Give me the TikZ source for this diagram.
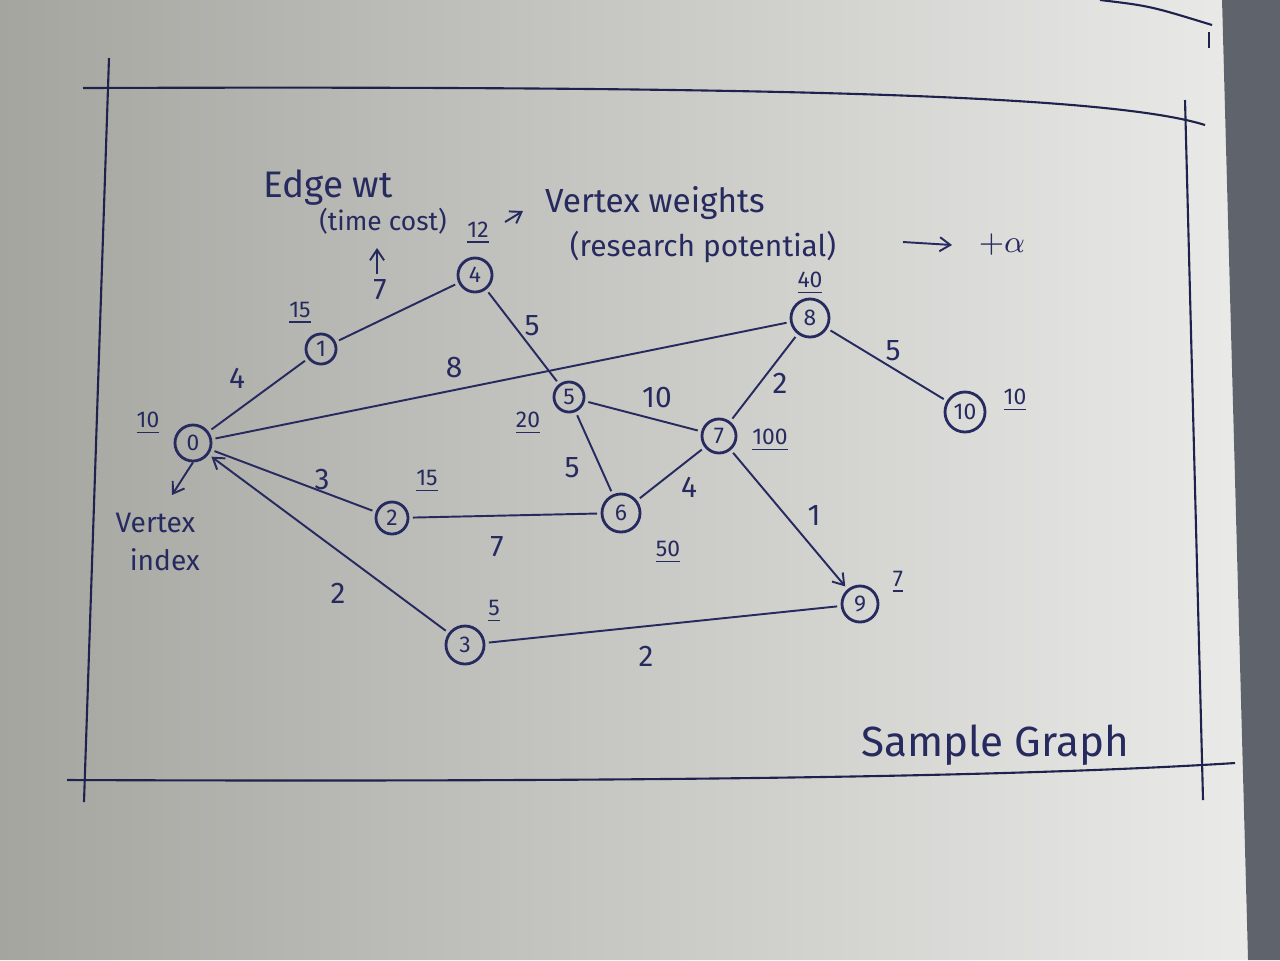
\documentclass[tikz,border=0pt]{standalone}
\usepackage{fontspec}
\setmainfont{Fira Sans}
\usetikzlibrary{arrows.meta}
\definecolor{ink}{RGB}{38,42,95}
\definecolor{paperL}{RGB}{165,165,160}
\definecolor{paperR}{RGB}{234,235,232}
\definecolor{backdrop}{RGB}{95,100,108}
\begin{document}
\begin{tikzpicture}[x=0.01cm,y=-0.01cm,
  vtx/.style={circle,draw=ink,line width=0.8pt,inner sep=0pt,text=ink,
    font=\fontsize{6.5}{7}\selectfont},
  edge/.style={draw=ink,line width=0.55pt,shorten >=1pt,shorten <=1pt},
  elab/.style={text=ink,font=\fontsize{8.5}{9}\selectfont,inner sep=0pt},
  wlab/.style={text=ink,font=\fontsize{6.5}{7}\selectfont,inner sep=0pt},
  note/.style={text=ink,inner sep=0pt,align=center},
  frame/.style={draw=ink!80!black,line width=0.6pt},
  tip/.style={-{Straight Barb[length=3pt,width=4pt]}}
]
\useasboundingbox (0,0) rectangle (1280,960);
% paper and backdrop
\shade[left color=paperL, right color=paperR] (0,0) -- (1222,0) -- (1248,960) -- (0,960) -- cycle;
\fill[backdrop] (1222,0) -- (1280,0) -- (1280,960) -- (1248,960) -- cycle;
% page frame
\coordinate (tl) at (83,88);
\coordinate (tr) at (1205,125);
\coordinate (lt) at (109,58);
\coordinate (lb) at (84,802);
\coordinate (bl) at (67,780);
\coordinate (br) at (1235,763);
\coordinate (rt) at (1185,100);
\coordinate (rb) at (1203,800);
\draw[frame] (tl) .. controls (700,86) and (1100,92) .. (tr);
\draw[frame] (lt) -- (lb);
\draw[frame] (bl) .. controls (600,782) and (1000,778) .. (br);
\draw[frame] (rt) -- (rb);
\coordinate (e1) at (1100,0);
\coordinate (e2) at (1212,25);
\draw[frame] (e1) .. controls (1150,6) .. (e2);
\coordinate (m1) at (1209,32);
\coordinate (m2) at (1209,48);
\draw[frame] (m1) -- (m2);

% vertices
\node[vtx,minimum size=0.36cm] (n0) at (193,443) {0};
\node[vtx,minimum size=0.30cm] (n1) at (321,349) {1};
\node[vtx,minimum size=0.34cm] (n4) at (475,275) {4};
\node[vtx,minimum size=0.30cm] (n5) at (569,397) {5};
\node[vtx,minimum size=0.38cm] (n8) at (810,318) {8};
\node[vtx,minimum size=0.40cm] (n10) at (965,412) {10};
\node[vtx,minimum size=0.34cm] (n7) at (719,436) {7};
\node[vtx,minimum size=0.38cm] (n6) at (621,513) {6};
\node[vtx,minimum size=0.32cm] (n2) at (392,518) {2};
\node[vtx,minimum size=0.38cm] (n3) at (465,645) {3};
\node[vtx,minimum size=0.36cm] (n9) at (860,604) {9};

% edges
\draw[edge] (n0) -- (n1);
\draw[edge] (n1) -- (n4);
\draw[edge] (n4) -- (n5);
\draw[edge] (n0) -- (n8);
\draw[edge] (n8) -- (n10);
\draw[edge] (n8) -- (n7);
\draw[edge] (n7) -- (n5);
\draw[edge] (n5) -- (n6);
\draw[edge] (n6) -- (n7);
\draw[edge,tip] (n7) -- (n9);
\draw[edge] (n0) -- (n2);
\draw[edge] (n2) -- (n6);
\draw[edge,tip] (n3) -- (n0);
\draw[edge] (n3) -- (n9);

% edge weights
\node[elab] (w01) at (237,378) {4};
\node[elab] (w14) at (380,290) {7};
\node[elab] (w08) at (454,368) {8};
\node[elab] (w45) at (532,326) {5};
\node[elab] (w810) at (893,351) {5};
\node[elab] (w87) at (780,383) {2};
\node[elab] (w75) at (657,398) {10};
\node[elab] (w56) at (572,468) {5};
\node[elab] (w67) at (689,487) {4};
\node[elab] (w79) at (814,515) {1};
\node[elab] (w02) at (322,480) {3};
\node[elab] (w26) at (497,547) {7};
\node[elab] (w03) at (338,593) {2};
\node[elab] (w39) at (646,656) {2};

% vertex weights
\node[wlab] (v0) at (148,423) {\underline{10}};
\node[wlab] (v1) at (300,313) {\underline{15}};
\node[wlab] (v4) at (478,233) {\underline{12}};
\node[wlab] (v8) at (810,283) {\underline{40}};
\node[wlab] (v10) at (1015,400) {\underline{10}};
\node[wlab] (v7) at (770,440) {\underline{100}};
\node[wlab] (v5) at (528,423) {\underline{20}};
\node[wlab] (v2) at (427,481) {\underline{15}};
\node[wlab] (v6) at (668,552) {\underline{50}};
\node[wlab] (v3) at (494,611) {\underline{5}};
\node[wlab] (v9) at (898,582) {\underline{7}};

% annotations
\node[note,font=\fontsize{10.5}{11}\selectfont] (ew) at (328,188) {Edge wt};
\node[note,font=\fontsize{7.5}{8}\selectfont] (tc) at (383,221) {(time cost)};
\coordinate (ea1) at (377,274);
\coordinate (ea2) at (377,248);
\draw[ink,line width=0.55pt,tip] (ea1) -- (ea2);
\coordinate (va1) at (505,222);
\coordinate (va2) at (523,211);
\draw[ink,line width=0.55pt,tip] (va1) -- (va2);
\node[note,font=\fontsize{9.5}{10}\selectfont] (vw) at (655,203) {Vertex weights};
\node[note,font=\fontsize{8.5}{9}\selectfont] (rp) at (703,247) {(research potential)};
\coordinate (pa1) at (903,242);
\coordinate (pa2) at (952,245);
\draw[ink,line width=0.55pt,tip] (pa1) -- (pa2);
\node[note,font=\fontsize{9}{10}\selectfont] (al) at (1002,245) {$+\alpha$};
\coordinate (vi) at (172,495);
\draw[ink,line width=0.55pt,tip] (n0.south) .. controls (188,470) .. (vi);
\node[note,font=\fontsize{8}{9}\selectfont,align=left,anchor=north west] (vx) at (115,512) {Vertex\\[2pt]\hspace{0.5em}index};
\node[note,font=\fontsize{12}{13}\selectfont] (sg) at (995,745) {Sample Graph};
\end{tikzpicture}
\end{document}
